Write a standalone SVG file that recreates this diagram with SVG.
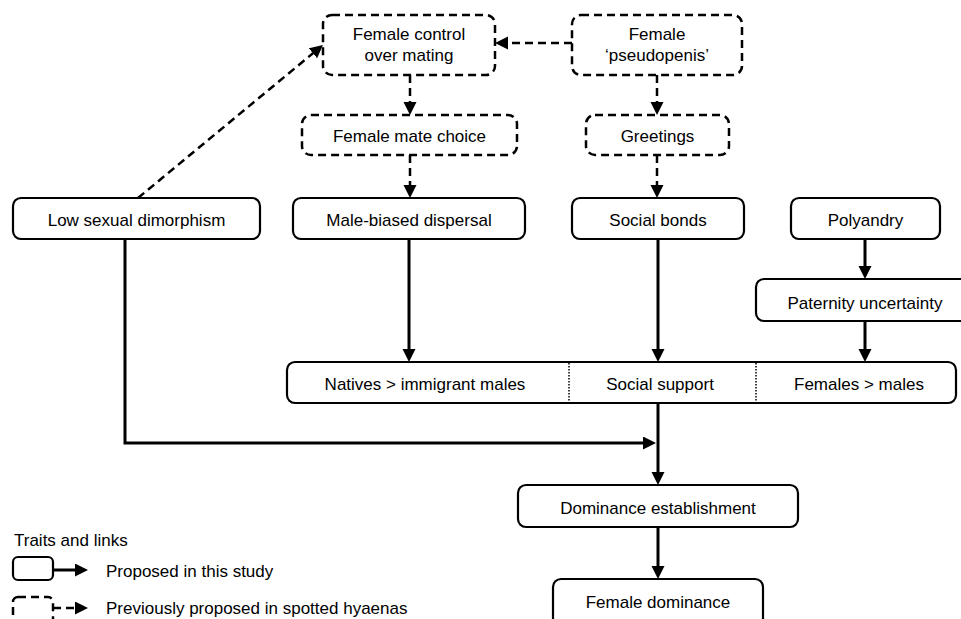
<svg xmlns="http://www.w3.org/2000/svg" width="961" height="619" viewBox="0 0 961 619">
<style>
text{font-family:"Liberation Sans",Arial,sans-serif;font-size:17px;fill:#000}
.c{text-anchor:middle}
.box{fill:#fff;stroke:#000;stroke-width:2.2}
.dbox{fill:#fff;stroke:#000;stroke-width:2.5;stroke-dasharray:8 5}
.ln{fill:none;stroke:#000;stroke-width:3}
.dl{fill:none;stroke:#000;stroke-width:2.5;stroke-dasharray:8 5}
.div{stroke:#000;stroke-width:1.5;stroke-dasharray:1.5 1.5}
</style>
<defs>
<marker id="ah" markerWidth="14" markerHeight="14" refX="2" refY="6.5" orient="auto" markerUnits="userSpaceOnUse"><path d="M0,0 L13,6.5 L0,13 z" fill="#000"/></marker>
<marker id="dh" markerWidth="14" markerHeight="14" refX="2" refY="6.5" orient="auto" markerUnits="userSpaceOnUse"><path d="M0,0 L13,6.5 L0,13 z" fill="#000"/></marker>
</defs>
<rect width="961" height="619" fill="#fff"/>
<g id="connectors">
<line class="dl" x1="572" y1="43" x2="506" y2="43" marker-end="url(#dh)"/>
<line class="dl" x1="410" y1="75" x2="410" y2="104" marker-end="url(#dh)"/>
<line class="dl" x1="410" y1="155" x2="410" y2="187" marker-end="url(#dh)"/>
<line class="dl" x1="657" y1="75" x2="657" y2="104" marker-end="url(#dh)"/>
<line class="dl" x1="657" y1="155" x2="657" y2="187" marker-end="url(#dh)"/>
<line class="dl" x1="138" y1="198" x2="314.5" y2="52" marker-end="url(#dh)"/>
<line class="ln" x1="409" y1="239" x2="409" y2="351" marker-end="url(#ah)"/>
<line class="ln" x1="658" y1="239" x2="658" y2="351" marker-end="url(#ah)"/>
<line class="ln" x1="865" y1="239" x2="865" y2="268" marker-end="url(#ah)"/>
<line class="ln" x1="865" y1="321" x2="865" y2="351" marker-end="url(#ah)"/>
<polyline class="ln" points="125,239 125,443 645,443" marker-end="url(#ah)"/>
<line class="ln" x1="658" y1="403" x2="658" y2="474" marker-end="url(#ah)"/>
<line class="ln" x1="658" y1="527" x2="658" y2="568" marker-end="url(#ah)"/>
</g>
<g id="female-control">
<rect class="dbox" x="323" y="15" width="172" height="60" rx="9"/>
<text class="c" x="409" y="40">Female control</text>
<text class="c" x="409" y="61">over mating</text>
</g>
<g id="pseudopenis">
<rect class="dbox" x="572" y="15" width="170" height="60" rx="9"/>
<text class="c" x="657" y="40">Female</text>
<text class="c" x="657" y="61">‘pseudopenis’</text>
</g>
<g id="mate-choice">
<rect class="dbox" x="302" y="115" width="215" height="40" rx="9"/>
<text class="c" x="409.5" y="142">Female mate choice</text>
</g>
<g id="greetings">
<rect class="dbox" x="586" y="115" width="143" height="40" rx="9"/>
<text class="c" x="657.5" y="142">Greetings</text>
</g>
<g id="low-dimorphism">
<rect class="box" x="13" y="198" width="247" height="41" rx="8"/>
<text class="c" x="136.5" y="226">Low sexual dimorphism</text>
</g>
<g id="male-dispersal">
<rect class="box" x="293" y="198" width="232" height="41" rx="8"/>
<text class="c" x="409" y="226">Male-biased dispersal</text>
</g>
<g id="social-bonds">
<rect class="box" x="572" y="198" width="172" height="41" rx="8"/>
<text class="c" x="658" y="226">Social bonds</text>
</g>
<g id="polyandry">
<rect class="box" x="791" y="198" width="149" height="41" rx="8"/>
<text class="c" x="865.5" y="226">Polyandry</text>
</g>
<g id="paternity">
<rect class="box" x="756" y="279" width="219" height="42" rx="8"/>
<text class="c" x="865" y="309">Paternity uncertainty</text>
</g>
<g id="support-row">
<rect class="box" x="287" y="362" width="669" height="41" rx="8"/>
<line class="div" x1="569" y1="363" x2="569" y2="402"/>
<line class="div" x1="756" y1="363" x2="756" y2="402"/>
<text class="c" x="425" y="390">Natives &gt; immigrant males</text>
<text class="c" x="660" y="390">Social support</text>
<text class="c" x="859" y="390">Females &gt; males</text>
</g>
<g id="dominance-establishment">
<rect class="box" x="518" y="485" width="280" height="42" rx="8"/>
<text class="c" x="658" y="514">Dominance establishment</text>
</g>
<g id="female-dominance">
<rect class="box" x="553" y="579" width="210" height="50" rx="8"/>
<text class="c" x="658" y="608">Female dominance</text>
</g>
<g id="legend">
<text x="14" y="546">Traits and links</text>
<rect class="box" x="13" y="557" width="40" height="23" rx="5"/>
<line class="ln" x1="53" y1="570" x2="77" y2="570" marker-end="url(#ah)"/>
<text x="106" y="577">Proposed in this study</text>
<rect class="dbox" x="13" y="597" width="40" height="40" rx="5"/>
<line class="dl" x1="53" y1="608" x2="77" y2="608" marker-end="url(#dh)"/>
<text x="106" y="614">Previously proposed in spotted hyaenas</text>
</g>
</svg>
